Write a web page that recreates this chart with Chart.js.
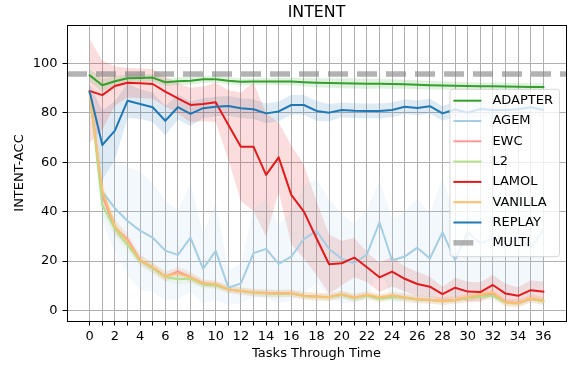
<!DOCTYPE html>
<html>
<head>
<meta charset="utf-8">
<script src="https://cdn.jsdelivr.net/npm/chart.js@4.4.1/dist/chart.umd.min.js"></script>
<style>
  html, body { margin: 0; padding: 0; background: #fff; }
  #wrap { width: 570px; height: 365px; }
</style>
</head>
<body>
<div id="wrap"><canvas id="c" width="570" height="365"></canvas></div>
<script>
// ---- data -------------------------------------------------------------
const TASKS = [0, 1, 2, 3, 4, 5, 6, 7, 8, 9, 10, 11, 12, 13, 14, 15, 16, 17, 18,
               19, 20, 21, 22, 23, 24, 25, 26, 27, 28, 29, 30, 31, 32, 33, 34, 35, 36];
const X_LIMITS = [-1.8, 37.8];
const Y_LIMITS = [-4.3, 115.6];
const Y_TICKS = [0, 20, 40, 60, 80, 100];

const METHODS = ['ADAPTER', 'AGEM', 'EWC', 'L2', 'LAMOL', 'VANILLA', 'REPLAY'];
const COLORS  = ['#33a02c', '#a6cee3', '#fb9a99', '#b2df8a', '#e31a1c', '#fdbf6f', '#1f78b4'];

const ADAPTER = [95.2, 91.2, 92.8, 94.0, 94.1, 94.3, 92.4, 92.8, 93.0, 93.6, 93.6, 93.0, 92.6, 92.7, 92.7, 92.7, 92.7, 92.4, 92.2,
                 92.1, 92.0, 91.9, 91.8, 91.8, 91.7, 91.6, 91.4, 91.2, 91.1, 91.0, 90.9, 90.8, 90.8, 90.7, 90.6, 90.5, 90.5];
const ADAPTER_SD = [2.5, 2.5, 2.0, 1.5, 1.5, 1.5, 1.5, 1.5, 1.5, 1.4, 1.4, 1.4, 1.3, 1.3, 1.3, 1.4, 1.5, 1.6, 1.8,
                    1.9, 2.0, 2.0, 2.0, 1.9, 1.9, 1.8, 1.8, 1.7, 1.6, 1.6, 1.5, 1.5, 1.5, 1.5, 1.5, 1.5, 1.5];

const AGEM = [88.0, 48.1, 41.4, 36.2, 32.3, 29.5, 24.2, 22.5, 29.5, 16.8, 24.1, 9.2, 10.9, 23.2, 24.9, 18.8, 21.8, 28.9, 32.2,
              24.9, 20.9, 19.1, 22.7, 35.7, 20.2, 21.8, 25.4, 21.0, 31.7, 20.4, 31.7, 27.2, 29.2, 25.2, 29.9, 25.2, 32.6];
const AGEM_SD = [4, 12, 18, 22, 24, 22, 20, 18, 22, 14, 20, 7, 8, 18, 20, 16, 18, 22, 21,
                 20, 18, 16, 18, 17, 17, 18, 20, 18, 22, 17, 22, 20, 20, 20, 22, 20, 22];

const EWC = [88.5, 46.5, 33.5, 28.8, 20.4, 17.3, 13.7, 15.8, 13.5, 11.0, 10.5, 8.5, 7.8, 7.2, 7.0, 6.9, 6.9, 5.9, 5.6,
             5.3, 6.4, 5.1, 6.1, 5.0, 5.8, 5.1, 4.4, 4.2, 3.8, 4.1, 5.0, 5.8, 6.5, 3.3, 3.0, 4.6, 3.8];
const EWC_SD = [2, 4, 3, 2.5, 2, 2, 2, 2, 2, 1.5, 1.5, 1.5, 1.5, 1.5, 1.5, 1.5, 1.5, 1.5, 1.5,
                1.5, 1.5, 1.5, 1.5, 1.5, 1.5, 1.5, 1.5, 1.5, 1.5, 1.5, 1.6, 1.6, 1.8, 1.5, 1.5, 1.5, 1.5];

const L2 = [88.5, 42.7, 33.0, 26.5, 20.0, 17.0, 13.5, 12.6, 12.9, 10.4, 10.1, 8.5, 7.9, 7.1, 6.8, 6.6, 6.9, 5.7, 5.4,
            5.2, 6.3, 4.9, 5.9, 4.6, 5.3, 5.1, 4.3, 4.3, 3.6, 4.2, 4.9, 5.5, 5.9, 3.0, 2.8, 4.7, 3.6];
const L2_SD = [2, 4, 3, 2.5, 2, 2, 2, 2, 2, 1.5, 1.5, 1.5, 1.5, 1.5, 1.5, 1.5, 1.5, 1.5, 1.5,
               1.5, 1.5, 1.5, 1.5, 1.5, 1.5, 1.5, 1.5, 1.5, 1.5, 1.5, 1.5, 1.5, 1.5, 1.5, 1.5, 1.5, 1.5];

const LAMOL = [88.9, 87.2, 90.9, 92.2, 92.0, 91.7, 88.6, 85.9, 83.2, 83.6, 84.3, 75.2, 66.3, 66.3, 54.9, 62.0, 46.8, 40.0, 29.2,
               18.7, 19.1, 21.4, 17.5, 13.4, 15.7, 12.8, 10.7, 9.6, 6.6, 9.2, 7.6, 7.4, 10.3, 6.8, 5.9, 8.2, 7.6];
const LAMOL_SD = [21, 14, 8, 6, 6, 6, 6, 6, 7, 7, 8, 14, 22, 26, 25, 14, 20, 19, 15,
                  12, 9, 8, 6, 6, 6, 5, 5, 4, 3, 4, 4, 4, 4, 4, 3.5, 4, 4];

const VANILLA = [88.5, 48.5, 34.0, 28.0, 20.4, 17.5, 13.8, 15.0, 13.4, 11.0, 10.7, 8.6, 7.9, 7.3, 7.0, 6.8, 7.0, 5.9, 5.6,
                 5.4, 6.6, 5.2, 6.3, 5.3, 6.1, 5.3, 4.6, 4.3, 3.8, 4.3, 5.3, 6.3, 7.2, 3.2, 2.9, 4.9, 4.0];
const VANILLA_SD = [2, 4, 3, 2.5, 2, 2, 2, 2, 2, 1.5, 1.5, 1.5, 1.5, 1.5, 1.5, 1.5, 1.5, 1.5, 1.5,
                    1.5, 1.5, 1.5, 1.5, 1.5, 1.5, 1.5, 1.5, 1.5, 1.5, 1.5, 1.6, 1.8, 1.8, 1.6, 1.6, 1.6, 1.6];

const REPLAY = [88.6, 67.0, 72.8, 84.9, 83.6, 82.3, 76.8, 82.3, 79.6, 81.9, 82.5, 82.8, 81.9, 81.5, 79.8, 80.6, 83.2, 83.2, 80.8,
                80.1, 81.2, 80.9, 80.8, 80.8, 81.2, 82.5, 82.0, 82.7, 79.8, 81.4, 80.1, 81.6, 81.2, 81.2, 81.5, 82.3, 81.2];
const REPLAY_SD = [3, 14, 12, 7, 6, 6, 6, 5, 5, 4, 4, 4, 4, 4, 4, 4, 4, 4, 4,
                   3.5, 3, 3, 3, 3, 3, 3, 3, 3, 3, 3, 3, 3, 3, 3, 3, 3, 3];

const MULTI = 95.8;

const MEANS = [ADAPTER, AGEM, EWC, L2, LAMOL, VANILLA, REPLAY];
const SPREADS = [ADAPTER_SD, AGEM_SD, EWC_SD, L2_SD, LAMOL_SD, VANILLA_SD, REPLAY_SD];

// ---- styling ----------------------------------------------------------
const FONT = 'DejaVu Sans';
const FS = 13;
const MULTI_COLOR = 'rgba(128,128,128,0.6)';
const MULTI_DASH = [20, 9];
Chart.defaults.font.family = FONT;
Chart.defaults.font.size = FS;
Chart.defaults.color = '#000';

function rgba(hex, a) {
  const n = parseInt(hex.slice(1), 16);
  return `rgba(${(n >> 16) & 255},${(n >> 8) & 255},${n & 255},${a})`;
}

// ---- datasets: shaded spread bands underneath, then the mean lines ----
const datasets = [];
METHODS.forEach((name, k) => {
  const mean = MEANS[k], sd = SPREADS[k];
  datasets.push({
    label: name + ' upper',
    data: TASKS.map((t, i) => ({ x: t, y: mean[i] + sd[i] })),
    borderColor: 'rgba(0,0,0,0)', borderWidth: 0, pointRadius: 0,
    backgroundColor: rgba(COLORS[k], 0.15), fill: '+1', order: 100
  });
  datasets.push({
    label: name + ' lower',
    data: TASKS.map((t, i) => ({ x: t, y: mean[i] - sd[i] })),
    borderColor: 'rgba(0,0,0,0)', borderWidth: 0, pointRadius: 0,
    fill: false, order: 100
  });
});
METHODS.forEach((name, k) => {
  datasets.push({
    label: name,
    data: TASKS.map((t, i) => ({ x: t, y: MEANS[k][i] })),
    borderColor: COLORS[k], borderWidth: 2, pointRadius: 0, fill: false,
    borderJoinStyle: 'round', borderCapStyle: 'square', tension: 0,
    order: 50 - k
  });
});
datasets.push({
  label: 'MULTI',
  data: [{ x: X_LIMITS[0], y: MULTI }, { x: X_LIMITS[1], y: MULTI }],
  borderColor: MULTI_COLOR, borderWidth: 5.5, borderDash: MULTI_DASH,
  borderCapStyle: 'butt', pointRadius: 0, fill: false, order: 1, clip: 0
});

// ---- legend box drawn inside the plot, centred on the right edge -------
const insideLegend = {
  id: 'insideLegend',
  afterDatasetsDraw(chart) {
    const { ctx, chartArea: a } = chart;
    const entries = METHODS.map((m, k) => ({ label: m, color: COLORS[k], width: 2, dash: [] }));
    entries.push({ label: 'MULTI', color: MULTI_COLOR, width: 5.5, dash: MULTI_DASH });
    ctx.save();
    ctx.font = `${FS}px "${FONT}"`;
    const textW = Math.max(...entries.map(e => ctx.measureText(e.label).width));
    const rowH = 20.3;
    const boxW = 42.5 + textW + 6.5;
    const boxH = 167.4;
    const right = a.right - 6.5;
    const left = right - boxW;
    const top = (a.top + a.bottom) / 2 - boxH / 2;
    const r = 3;
    ctx.beginPath();
    ctx.moveTo(left + r, top);
    ctx.arcTo(right, top, right, top + boxH, r);
    ctx.arcTo(right, top + boxH, left, top + boxH, r);
    ctx.arcTo(left, top + boxH, left, top, r);
    ctx.arcTo(left, top, right, top, r);
    ctx.closePath();
    ctx.fillStyle = 'rgba(255,255,255,0.8)';
    ctx.fill();
    ctx.lineWidth = 1;
    ctx.strokeStyle = 'rgba(204,204,204,0.8)';
    ctx.stroke();

    entries.forEach((e, i) => {
      const y = top + 11.4 + i * rowH;
      ctx.beginPath();
      ctx.setLineDash(e.dash);
      ctx.lineCap = 'butt';
      ctx.lineWidth = e.width;
      ctx.strokeStyle = e.color;
      ctx.moveTo(left + 3.5, y);
      ctx.lineTo(left + 31.5, y);
      ctx.stroke();
      ctx.setLineDash([]);
      ctx.fillStyle = '#000';
      ctx.textAlign = 'left';
      ctx.textBaseline = 'middle';
      ctx.fillText(e.label, left + 42.5, y);
    });
    ctx.restore();
  }
};

function fixedSize(prop, v) {
  return scale => { scale[prop] = v; };
}

new Chart(document.getElementById('c'), {
  type: 'line',
  data: { datasets },
  options: {
    responsive: false,
    animation: false,
    devicePixelRatio: 1,
    events: [],
    layout: { padding: 0 },
    plugins: {
      legend: { display: false },
      title: { display: false },
      tooltip: { enabled: false }
    },
    scales: {
      x: {
        type: 'linear', position: 'bottom',
        min: X_LIMITS[0], max: X_LIMITS[1], bounds: 'data',
        afterBuildTicks: s => { s.ticks = TASKS.map(v => ({ value: v })); },
        afterFit: fixedSize('height', 44),
        ticks: {
          autoSkip: false, maxRotation: 0, padding: 3.5, color: '#000',
          font: { size: FS },
          callback: v => (v % 2 === 0 ? String(v) : '')
        },
        grid: { color: '#b0b0b0', lineWidth: 1, tickColor: '#000', tickLength: 4.5, tickWidth: 1 },
        border: { display: true, color: '#000', width: 1, z: 1 },
        title: { display: true, text: 'Tasks Through Time', font: { size: FS }, padding: { top: 0, bottom: 3.2 } }
      },
      xTop: {
        type: 'linear', position: 'top',
        min: X_LIMITS[0], max: X_LIMITS[1],
        afterFit: fixedSize('height', 25),
        ticks: { display: false },
        grid: { display: false, drawTicks: false },
        border: { display: true, color: '#000', width: 1, z: 1 },
        title: { display: true, text: 'INTENT', font: { size: 15.8 }, padding: { top: 3, bottom: 0 } }
      },
      y: {
        type: 'linear', position: 'left',
        min: Y_LIMITS[0], max: Y_LIMITS[1], bounds: 'data',
        afterBuildTicks: s => { s.ticks = Y_TICKS.map(v => ({ value: v })); },
        afterFit: fixedSize('width', 67),
        ticks: { padding: 5, color: '#000', font: { size: FS }, callback: v => String(v) },
        grid: { color: '#b0b0b0', lineWidth: 1, tickColor: '#000', tickLength: 4.5, tickWidth: 1 },
        border: { display: true, color: '#000', width: 1, z: 1 },
        title: { display: true, text: 'INTENT-ACC', font: { size: FS }, padding: { top: 11.7, bottom: 0 } }
      },
      yRight: {
        type: 'linear', position: 'right',
        min: Y_LIMITS[0], max: Y_LIMITS[1],
        afterFit: fixedSize('width', 4),
        ticks: { display: false },
        grid: { display: false, drawTicks: false },
        border: { display: true, color: '#000', width: 1, z: 1 }
      }
    }
  },
  plugins: [insideLegend]
});
</script>
</body>
</html>
